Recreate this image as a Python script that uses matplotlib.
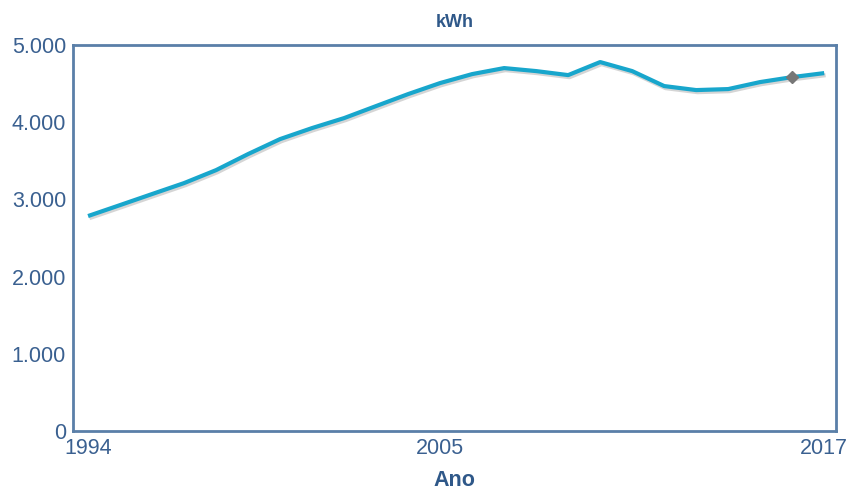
import matplotlib
matplotlib.use("Agg")
import matplotlib.pyplot as plt
import matplotlib.patheffects as pe

years = list(range(1994, 2018))
kwh = [2785, 2927, 3070, 3212, 3380, 3588, 3782, 3925, 4054, 4210, 4365, 4508,
       4624, 4702, 4663, 4611, 4780, 4663, 4469, 4417, 4430, 4521, 4585, 4637]
x_ticks = [1994, 2005, 2017]
y_ticks = [0, 1000, 2000, 3000, 4000, 5000]
y_labels = ["0", "1.000", "2.000", "3.000", "4.000", "5.000"]

axis_col = "#5a7fa8"
text_col = "#3a6090"
plt.rcParams["font.family"] = ["Liberation Sans", "DejaVu Sans"]

fig = plt.figure(figsize=(8.48, 4.9), dpi=100)
ax = fig.add_axes([0.0861, 0.1204, 0.9, 0.7876])

ax.plot(years, kwh, color="#18a6cc", lw=3.0, solid_capstyle="butt",
        path_effects=[pe.SimpleLineShadow(offset=(1, -1.5), shadow_color="#888888", alpha=0.35),
                      pe.Normal()])
# highlighted point
ax.plot([years[-2]], [kwh[-2]], marker="D", ms=6, color="#777777", zorder=5)

ax.set_xlim(1993.53, 2017.375)
ax.set_ylim(0, 5000)
ax.set_xticks(x_ticks)
ax.set_yticks(y_ticks)
ax.set_yticklabels(y_labels)
ax.tick_params(length=0, labelsize=15.5, labelcolor=text_col)
ax.tick_params(axis="x", pad=5)
ax.tick_params(axis="y", pad=5)
for s in ax.spines.values():
    s.set_color(axis_col)
    s.set_linewidth(2)

ax.set_xlabel("Ano", fontsize=15.5, fontweight="bold", color="#2f5889", labelpad=8)
ax.set_title("kWh", fontsize=13, fontweight="bold", color="#2f5889", pad=13)

fig.savefig("out.png", dpi=100)
